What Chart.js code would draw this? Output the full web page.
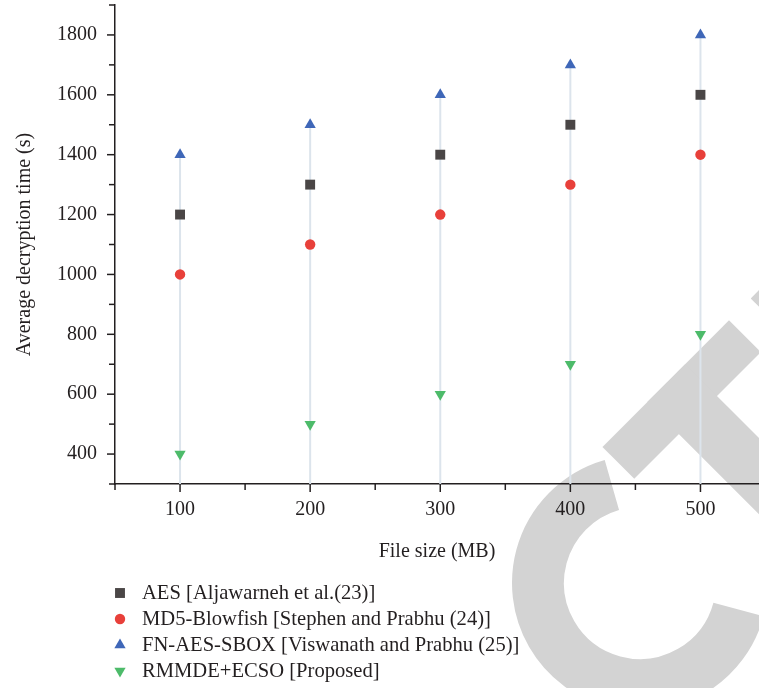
<!DOCTYPE html>
<html>
<head>
<meta charset="utf-8">
<script src="https://cdn.jsdelivr.net/npm/chart.js@4.4.0/dist/chart.umd.min.js"></script>
<style>
  html, body { margin: 0; padding: 0; background: #fff; }
  #wrap { width: 759px; height: 688px; }
</style>
</head>
<body>
<div id="wrap"><canvas id="decChart" width="759" height="688"></canvas></div>
<script>
const fileSizes = [100, 200, 300, 400, 500];
const aesTimes = [1200, 1300, 1400, 1500, 1600];
const md5Times = [1000, 1100, 1200, 1300, 1400];
const fnAesTimes = [1400, 1500, 1600, 1700, 1800];
const proposedTimes = [400, 500, 600, 700, 800];
const seriesLabels = [
  'AES [Aljawarneh et al.(23)]',
  'MD5-Blowfish [Stephen and Prabhu (24)]',
  'FN-AES-SBOX [Viswanath and Prabhu (25)]',
  'RMMDE+ECSO [Proposed]'
];
const yTickLabels = [400, 600, 800, 1000, 1200, 1400, 1600, 1800];
const xTickLabels = [100, 200, 300, 400, 500];

const SERIF = '"Liberation Serif", "DejaVu Serif", serif';
const INK = '#231f20';

const toPoints = vals => vals.map((v, i) => ({ x: fileSizes[i], y: v }));

// faint diagonal "RETRACTED" stamp behind the plot; only C, T and a corner of E reach the frame
const watermark = {
  id: 'watermark',
  beforeDraw(chart) {
    const ctx = chart.ctx;
    const deg = Math.PI / 180;
    ctx.save();
    ctx.fillStyle = '#d3d3d3';
    ctx.strokeStyle = '#d3d3d3';
    // C
    ctx.lineWidth = 52;
    ctx.lineCap = 'butt';
    ctx.beginPath();
    ctx.arc(640, 583, 102, 15 * deg, 254 * deg);
    ctx.stroke();
    // T and E, drawn in the rotated text frame
    ctx.rotate(-Math.PI / 4);
    ctx.fillRect(110, 742, 179, 45);   // T bar
    ctx.fillRect(173, 742, 54, 245);   // T stem
    ctx.fillRect(320, 742, 55, 245);   // E stem
    ctx.fillRect(320, 742, 200, 45);   // E top arm
    ctx.restore();
  }
};

// vertical drop lines from the top point of each group to the x axis
const dropLines = {
  id: 'dropLines',
  beforeDatasetsDraw(chart) {
    const { ctx, chartArea, scales } = chart;
    ctx.save();
    ctx.strokeStyle = '#dce4ec';
    ctx.lineWidth = 2;
    fileSizes.forEach((fs, i) => {
      const top = Math.max(aesTimes[i], md5Times[i], fnAesTimes[i], proposedTimes[i]);
      const x = scales.x.getPixelForValue(fs);
      ctx.beginPath();
      ctx.moveTo(x, scales.y.getPixelForValue(top));
      ctx.lineTo(x, chartArea.bottom);
      ctx.stroke();
    });
    ctx.restore();
  }
};

// major / minor tick marks and the bottom legend
const axisTicksAndLegend = {
  id: 'axisTicksAndLegend',
  afterDraw(chart) {
    const { ctx, chartArea, scales } = chart;
    ctx.save();
    ctx.strokeStyle = INK;
    ctx.lineWidth = 1.5;
    scales.y.ticks.forEach(t => {
      if (t.value % 100 !== 0) return;
      const y = scales.y.getPixelForValue(t.value);
      const len = yTickLabels.includes(t.value) ? 8 : 6;
      ctx.beginPath();
      ctx.moveTo(chartArea.left - len, y);
      ctx.lineTo(chartArea.left, y);
      ctx.stroke();
    });
    scales.x.ticks.forEach(t => {
      if (t.value % 50 !== 0) return;
      const x = scales.x.getPixelForValue(t.value);
      const len = xTickLabels.includes(t.value) ? 8 : 6;
      ctx.beginPath();
      ctx.moveTo(x, chartArea.bottom);
      ctx.lineTo(x, chartArea.bottom + len);
      ctx.stroke();
    });

    ctx.font = '20.6px ' + SERIF;
    ctx.textAlign = 'left';
    ctx.textBaseline = 'middle';
    chart.data.datasets.forEach((ds, i) => {
      const y = 593 + i * 26;
      ctx.fillStyle = ds.backgroundColor;
      ctx.strokeStyle = ds.backgroundColor;
      Chart.helpers.drawPoint(ctx, {
        pointStyle: ds.pointStyle,
        rotation: ds.rotation || 0,
        radius: ds.pointRadius,
        borderWidth: 0
      }, 120, y);
      ctx.fillStyle = INK;
      ctx.fillText(ds.label, 142, y + 1);
    });
    ctx.restore();
  }
};

new Chart(document.getElementById('decChart'), {
  type: 'scatter',
  data: {
    datasets: [
      { label: seriesLabels[0], data: toPoints(aesTimes), pointStyle: 'rect', pointRadius: 7,
        backgroundColor: '#4a4646', borderColor: '#4a4646', borderWidth: 0 },
      { label: seriesLabels[1], data: toPoints(md5Times), pointStyle: 'circle', pointRadius: 5.2,
        backgroundColor: '#e8403a', borderColor: '#e8403a', borderWidth: 0 },
      { label: seriesLabels[2], data: toPoints(fnAesTimes), pointStyle: 'triangle', pointRadius: 6.5,
        backgroundColor: '#3f67b8', borderColor: '#3f67b8', borderWidth: 0 },
      { label: seriesLabels[3], data: toPoints(proposedTimes), pointStyle: 'triangle', rotation: 180, pointRadius: 6.5,
        backgroundColor: '#4dbb6a', borderColor: '#4dbb6a', borderWidth: 0 }
    ]
  },
  options: {
    responsive: false,
    animation: false,
    layout: { autoPadding: false, padding: { top: 5, right: 0, bottom: 118, left: 0 } },
    plugins: {
      legend: { display: false },
      tooltip: { enabled: false }
    },
    scales: {
      x: {
        type: 'linear',
        min: 50,
        max: 545,
        afterFit: s => { s.height = 86; s.paddingLeft = 0; s.paddingRight = 0; },
        border: { color: INK, width: 1.5 },
        grid: { display: true, drawOnChartArea: false, drawTicks: true, tickLength: 8, color: 'transparent' },
        ticks: {
          stepSize: 50,
          autoSkip: false,
          maxRotation: 0,
          padding: 6,
          color: INK,
          font: { family: SERIF, size: 20 },
          callback: v => xTickLabels.includes(v) ? String(v) : ''
        },
        title: { display: true, text: 'File size (MB)', color: INK, font: { family: SERIF, size: 20 }, padding: { top: 0, bottom: 6 } }
      },
      y: {
        min: 300,
        max: 1900,
        afterFit: s => { s.width = 115; s.paddingTop = 0; s.paddingBottom = 0; },
        border: { color: INK, width: 1.5 },
        grid: { display: true, drawOnChartArea: false, drawTicks: true, tickLength: 8, color: 'transparent' },
        ticks: {
          stepSize: 100,
          autoSkip: false,
          padding: 10,
          color: INK,
          font: { family: SERIF, size: 20 },
          callback: v => yTickLabels.includes(v) ? String(v) : ''
        },
        title: { display: true, text: 'Average decryption time (s)', color: INK, font: { family: SERIF, size: 20 }, padding: { top: 13, bottom: 0 } }
      }
    }
  },
  plugins: [watermark, dropLines, axisTicksAndLegend]
});
</script>
</body>
</html>
